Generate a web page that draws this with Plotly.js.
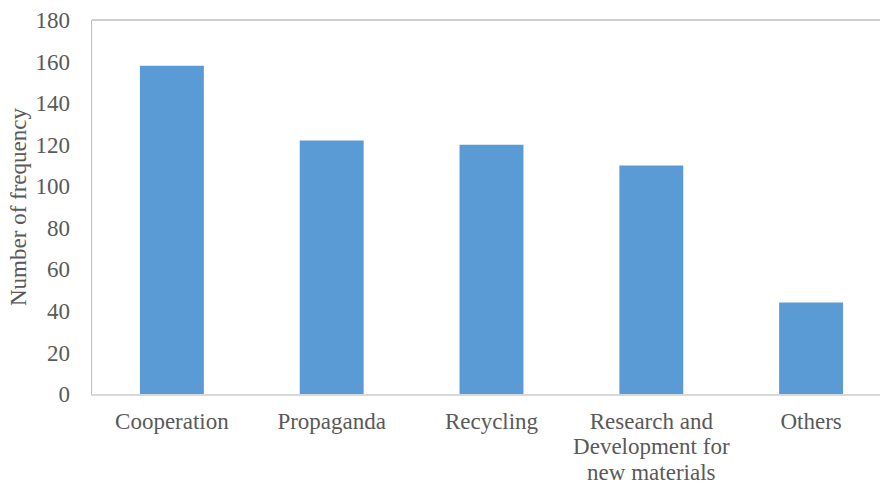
<!DOCTYPE html>
<html>
<head>
<meta charset="utf-8">
<script src="https://cdn.plot.ly/plotly-3.0.1.min.js"></script>
<style>
  html, body { margin: 0; padding: 0; overflow: hidden; background: #fff; }
  #chart { width: 900px; height: 484px; }
</style>
</head>
<body>
<div id="chart"></div>
<script>
// Measures by number of mentions
const categories = [
  "Cooperation",
  "Propaganda",
  "Recycling",
  "Research and<br>Development for<br>new materials",
  "Others"
];
const frequency = [158, 122, 120, 110, 44];
const yTicks = [0, 20, 40, 60, 80, 100, 120, 140, 160, 180];

const serif = "Liberation Serif";
const textColor = "#595959";

const trace = {
  type: "bar",
  x: categories,
  y: frequency,
  marker: { color: "#5b9bd5", line: { width: 0 } },
  hoverinfo: "x+y"
};

const layout = {
  width: 900,
  height: 484,
  margin: { l: 92, r: 9, t: 20, b: 90 },
  paper_bgcolor: "#ffffff",
  plot_bgcolor: "#ffffff",
  bargap: 0.6,
  showlegend: false,
  font: { family: serif, size: 23, color: textColor },
  xaxis: {
    type: "category",
    showgrid: false,
    showline: true,
    linecolor: "#d9d9d9",
    linewidth: 1.5,
    ticks: "",
    ticklabelstandoff: 6,
    tickfont: { family: serif, size: 23, color: textColor },
    fixedrange: true
  },
  yaxis: {
    range: [0, 180],
    tickvals: yTicks,
    ticktext: yTicks.map(String),
    showgrid: false,
    zeroline: false,
    showline: true,
    linecolor: "#bfbfbf",
    linewidth: 1.5,
    ticks: "",
    ticklabelstandoff: 16,
    tickfont: { family: serif, size: 23, color: textColor },
    title: { text: "Number of frequency", font: { family: serif, size: 23, color: textColor }, standoff: 2 },
    fixedrange: true
  },
  shapes: [{
    type: "line", xref: "paper", yref: "paper",
    x0: 0, x1: 1, y0: 1, y1: 1,
    line: { color: "#bfbfbf", width: 1.5 }
  }]
};

// Multi-line category labels are set a little tighter than Plotly's default 1.3em spacing
function tightenLabelLines(gd) {
  const ratio = 1.1 / 1.3;
  gd.querySelectorAll(".xtick text tspan.line").forEach(function (t) {
    const dy = parseFloat(t.getAttribute("dy"));
    if (dy) {
      t.setAttribute("dy", (dy * ratio).toFixed(3) + "em");
    }
  });
}

Plotly.newPlot("chart", [trace], layout, { displayModeBar: false, staticPlot: true })
  .then(tightenLabelLines);
</script>
</body>
</html>
